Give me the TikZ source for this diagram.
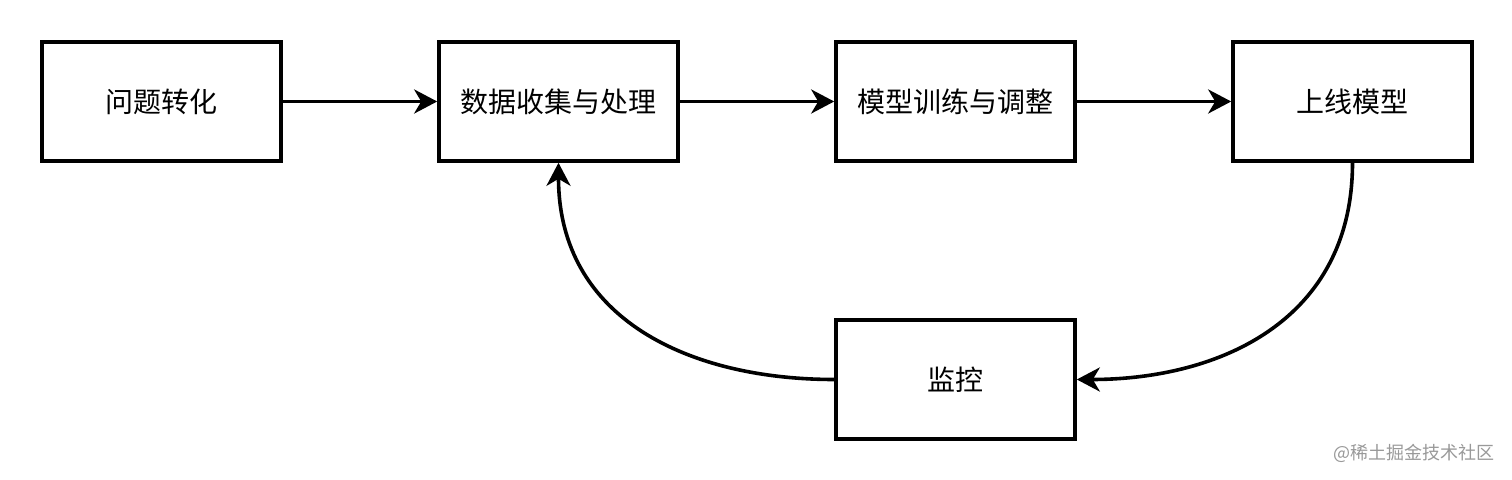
\documentclass[tikz,border=0pt]{standalone}
\usepackage{fontspec}
\setmainfont{Noto Sans CJK SC}
\usetikzlibrary{arrows.meta}
\begin{document}
\begin{tikzpicture}[x=0.5pt,y=-0.5pt,
  box/.style={draw=black,line width=1.8pt,fill=white,minimum width=119.5pt,minimum height=59.5pt,inner sep=0pt,font=\fontsize{14}{16}\selectfont},
  conn/.style={line width=1.8pt,-{Stealth[length=11.5pt,width=12pt,inset=3.5pt]}}]
\useasboundingbox[fill=white] (0,0) rectangle (1512,480);
\node[box] (a) at (161.5,101.5) {问题转化};
\node[box] (b) at (558.5,101.5) {数据收集与处理};
\node[box] (c) at (955.5,101.5) {模型训练与调整};
\node[box] (d) at (1352.5,101.5) {上线模型};
\node[box] (e) at (955.5,379.5) {监控};
\draw[conn] (a.east) -- (b.west);
\draw[conn] (b.east) -- (c.west);
\draw[conn] (c.east) -- (d.west);
\draw[conn] (d.south) .. controls (1352.5,320) and (1220,379.5) .. (e.east);
\draw[conn] (e.west) .. controls (691,379.5) and (558.5,320) .. (b.south);
\node[anchor=east,text=black!40,font=\fontsize{9}{11}\selectfont,inner sep=0pt] (w) at (1495,453) {@稀土掘金技术社区};
\end{tikzpicture}
\end{document}
